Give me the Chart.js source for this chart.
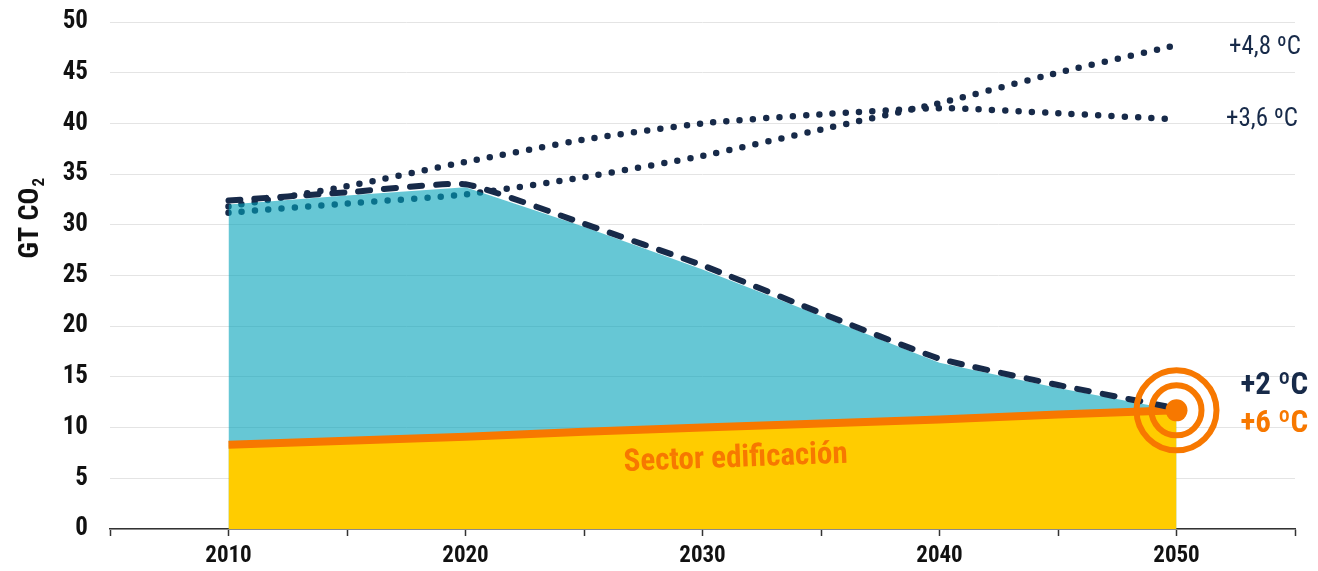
<!DOCTYPE html>
<html lang="es">
<head>
<meta charset="utf-8">
<title>Emisiones GT CO2</title>
<script src="https://cdn.jsdelivr.net/npm/chart.js@4.4.1/dist/chart.umd.min.js"></script>
<style>
    html, body {
        margin: 0;
        padding: 0;
        background: #ffffff;
    }

    .chart-container {
        position: relative;
        width: 1318px;
        height: 571px;
    }
</style>
</head>
<body>

<div class="chart-container">
    <canvas id="emissionsChart"></canvas>
</div>

<script>

/* =========================
   DADOS
========================= */

const years = [2010, 2015, 2020, 2025, 2030, 2035, 2040, 2045, 2050];

const path48 = [31.2, 32.1, 33.0, 34.7, 36.8, 39.4, 42.0, 45.0, 47.7];
const path36 = [31.8, 33.8, 36.2, 38.4, 40.0, 40.9, 41.5, 41.0, 40.4];
const path2 = [32.4, 33.2, 34.0, 30.1, 26.0, 21.3, 16.8, 14.2, 11.9];
const path2Area = [32.0, 32.9, 33.7, 29.8, 25.6, 21.0, 16.4, 13.9, 11.7];
const buildings = [8.3, 8.7, 9.1, 9.6, 10.0, 10.4, 10.8, 11.3, 11.7];

const target = { x: 2050, y: 11.7 };

const yTicks = [0, 5, 10, 15, 20, 25, 30, 35, 40, 45, 50];
const xLabels = [2010, 2020, 2030, 2040, 2050];

const NAVY = "#172a49";
const ORANGE = "#f77800";
const YELLOW = "#ffcc00";
const TEAL = "rgba(0, 162, 185, 0.6)";

const FONT = "'Roboto Condensed', 'Liberation Sans Narrow', 'DejaVu Sans Condensed', Roboto, sans-serif";

const toPoints = arr => years.map((y, i) => ({ x: y, y: arr[i] }));


/* =========================
   TEXTOS
========================= */

const annotations = {

    id: "annotations",

    afterDraw(chart) {

        const { ctx, scales } = chart;
        const x = scales.x;
        const y = scales.y;

        ctx.save();

        // título eixo Y
        ctx.translate(31, y.getPixelForValue(30.6));
        ctx.rotate(-Math.PI / 2);
        ctx.fillStyle = "#111";
        ctx.textBaseline = "middle";
        ctx.font = "bold 28px " + FONT;
        const main = "GT CO";
        const w1 = ctx.measureText(main).width;
        ctx.font = "bold 17px " + FONT;
        const w2 = ctx.measureText("2").width;
        const start = -(w1 + w2) / 2;
        ctx.font = "bold 28px " + FONT;
        ctx.textAlign = "left";
        ctx.fillText(main, start, 0);
        ctx.font = "bold 17px " + FONT;
        ctx.fillText("2", start + w1 + 1, 9);
        ctx.restore();

        // rótulos à direita
        ctx.save();
        ctx.textBaseline = "middle";
        ctx.textAlign = "right";
        ctx.fillStyle = NAVY;
        ctx.font = "25px " + FONT;
        const right = x.getPixelForValue(2055) + 6;
        ctx.fillText("+4,8 ºC", right, y.getPixelForValue(path48[path48.length - 1] - 0.2));
        ctx.fillText("+3,6 ºC", right - 3, y.getPixelForValue(path36[path36.length - 1]));

        ctx.textAlign = "left";
        ctx.font = "bold 31px " + FONT;
        const left = x.getPixelForValue(2052.7);
        ctx.fillStyle = NAVY;
        ctx.fillText("+2 ºC", left, y.getPixelForValue(14.1));
        ctx.fillStyle = ORANGE;
        ctx.fillText("+6 ºC", left, y.getPixelForValue(10.3));
        ctx.restore();

        // setor edificação
        ctx.save();
        ctx.translate(x.getPixelForValue(2031.4), y.getPixelForValue(6.9));
        ctx.rotate(-0.037);
        ctx.textAlign = "center";
        ctx.textBaseline = "middle";
        ctx.fillStyle = ORANGE;
        ctx.font = "bold 31px " + FONT;
        ctx.fillText("Sector edificación", 0, 0);
        ctx.restore();

    }

};


/* =========================
   GRÁFICO
========================= */

const dotted = {
    borderColor: NAVY,
    borderWidth: 6.5,
    borderDash: [0, 13.3],
    borderCapStyle: "round",
    pointRadius: 0,
    fill: false,
    tension: 0.2
};

const ring = {
    showLine: false,
    borderColor: ORANGE,
    backgroundColor: "rgba(0,0,0,0)",
    pointHoverRadius: 0
};

new Chart(document.getElementById("emissionsChart"), {

    type: "line",

    data: {
        datasets: [
            {
                ...dotted,
                label: "+4,8 ºC",
                data: toPoints(path48),
                order: 7
            },
            {
                ...dotted,
                label: "+3,6 ºC",
                data: toPoints(path36),
                order: 6
            },
            {
                label: "2 ºC area",
                data: toPoints(path2Area),
                backgroundColor: TEAL,
                borderWidth: 0,
                pointRadius: 0,
                fill: "origin",
                order: 5
            },
            {
                label: "Sector edificación",
                data: toPoints(buildings),
                backgroundColor: YELLOW,
                borderColor: ORANGE,
                borderWidth: 8,
                borderCapStyle: "butt",
                pointRadius: 0,
                fill: "origin",
                order: 4
            },
            {
                label: "+2 ºC",
                data: toPoints(path2),
                borderColor: NAVY,
                borderWidth: 6,
                borderDash: [12, 14],
                borderCapStyle: "round",
                pointRadius: 0,
                fill: false,
                tension: 0.15,
                order: 3
            },
            {
                ...ring,
                label: "ring outer",
                data: [target],
                pointRadius: 40,
                pointBorderWidth: 6,
                order: 2
            },
            {
                ...ring,
                label: "ring inner",
                data: [target],
                pointRadius: 25,
                pointBorderWidth: 6,
                order: 1
            },
            {
                ...ring,
                label: "target",
                data: [target],
                backgroundColor: ORANGE,
                pointRadius: 11,
                pointBorderWidth: 0,
                order: 0
            }
        ]
    },

    options: {
        responsive: true,
        maintainAspectRatio: false,
        animation: false,
        layout: {
            autoPadding: false,
            padding: { top: 22, right: 23, left: 0, bottom: 0 }
        },
        plugins: {
            legend: { display: false },
            tooltip: { enabled: false }
        },
        scales: {
            x: {
                type: "linear",
                min: 2005,
                max: 2055,
                afterFit: s => { s.height = 42; },
                border: { display: true, color: "#333", width: 1.5 },
                grid: {
                    drawOnChartArea: false,
                    drawTicks: true,
                    tickLength: 7,
                    tickColor: "#333",
                    tickWidth: 1.5
                },
                ticks: {
                    stepSize: 5,
                    padding: 6,
                    maxRotation: 0,
                    autoSkip: false,
                    color: "#111",
                    font: { family: FONT, size: 23, weight: "bold" },
                    callback: v => xLabels.includes(v) ? String(v) : ""
                }
            },
            y: {
                min: 0,
                max: 50,
                afterFit: s => {
                    s.width = 110;
                    s.paddingTop = 0;
                    s.paddingBottom = 0;
                },
                afterBuildTicks: s => {
                    s.ticks = yTicks.map(v => ({ value: v }));
                },
                border: { display: false },
                grid: {
                    drawTicks: false,
                    color: "#e4e4e4",
                    lineWidth: 1
                },
                ticks: {
                    padding: 22,
                    color: "#111",
                    font: { family: FONT, size: 25, weight: "bold" }
                }
            }
        }
    },

    plugins: [annotations]

});

</script>
</body>
</html>
